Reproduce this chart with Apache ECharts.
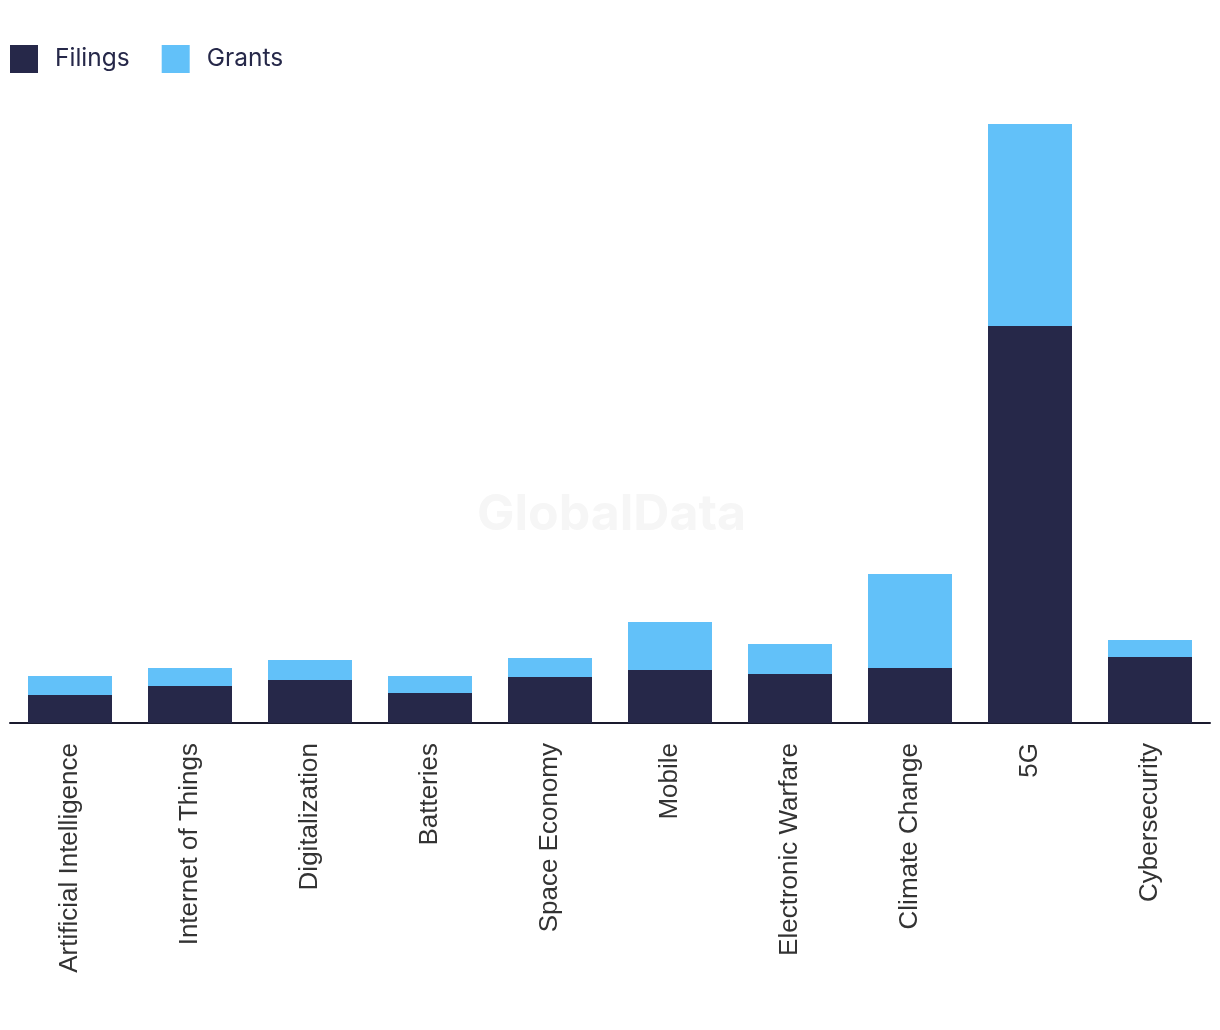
<!DOCTYPE html>
<html>
<head>
<meta charset="utf-8">
<script src="https://cdn.jsdelivr.net/npm/echarts@6/dist/echarts.min.js"></script>
<style>
  html, body { margin: 0; padding: 0; background: #fff; }
  #main { width: 1220px; height: 1030px; }
</style>
</head>
<body>
<div id="main"></div>
<script>
var categories = ['Artificial Intelligence', 'Internet of Things', 'Digitalization', 'Batteries', 'Space Economy',
    'Mobile', 'Electronic Warfare', 'Climate Change', '5G', 'Cybersecurity'];
var filings = [28, 37, 43, 30, 46, 53, 49, 55, 397, 66];
var grants = [19, 18, 20, 17, 19, 48, 30, 94, 202, 17];

var chart = echarts.init(document.getElementById('main'));
var option = {
    animation: false,
    legend: {
        left: 10,
        top: 45,
        padding: 0,
        itemWidth: 28,
        itemHeight: 28,
        itemGap: 32,
        icon: 'rect',
        textStyle: { fontFamily: 'Inter', fontSize: 24.5, color: '#262849', padding: [0, 0, 0, 12] },
        data: ['Filings', 'Grants']
    },
    graphic: [{
        type: 'text',
        left: 477,
        top: 490,
        style: { text: 'GlobalData', font: 'bold 50px Inter', fill: '#f6f6f6' },
        z: 0
    }],
    grid: {
        left: 10,
        right: 10,
        top: 124,
        bottom: 307
    },
    xAxis: {
        type: 'category',
        data: categories,
        axisLine: { lineStyle: { color: '#1a1a2e', width: 2 } },
        axisTick: { show: false },
        axisLabel: {
            rotate: 90,
            margin: 20,
            fontFamily: 'Liberation Sans',
            fontSize: 26,
            color: '#333'
        }
    },
    yAxis: {
        type: 'value',
        min: 0,
        max: 599,
        show: false,
        splitLine: { show: false }
    },
    series: [
        {
            name: 'Filings',
            type: 'bar',
            stack: 'total',
            barWidth: 84,
            itemStyle: { color: '#262849' },
            data: filings
        },
        {
            name: 'Grants',
            type: 'bar',
            stack: 'total',
            barWidth: 84,
            itemStyle: { color: '#62c1f9' },
            data: grants
        }
    ]
};
chart.setOption(option);
</script>
</body>
</html>
